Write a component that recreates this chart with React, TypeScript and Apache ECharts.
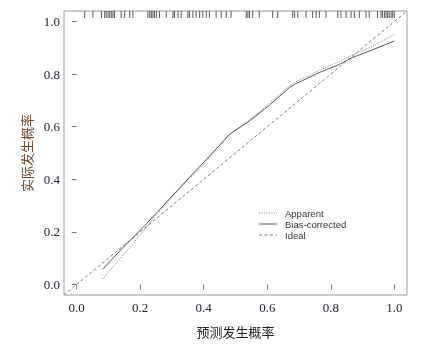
import React, { useEffect, useRef } from "react";
import * as echarts from "echarts";

const tickValues = [0, 0.2, 0.4, 0.6, 0.8, 1.0];
const idealLine = [
  [-0.04, -0.04],
  [1.04, 1.04],
];
const apparentX = [0.082, 0.13, 0.172, 0.24, 0.32, 0.387, 0.429, 0.481, 0.544, 0.607, 0.67, 0.686, 0.764, 0.827, 0.868, 0.931, 1.0];
const apparentY = [0.021, 0.09, 0.147, 0.249, 0.36, 0.439, 0.5, 0.571, 0.625, 0.688, 0.757, 0.768, 0.815, 0.848, 0.873, 0.905, 0.951];
const biasX = [0.082, 0.151, 0.209, 0.282, 0.355, 0.429, 0.481, 0.544, 0.607, 0.67, 0.686, 0.764, 0.827, 0.868, 0.931, 1.0];
const biasY = [0.058, 0.147, 0.217, 0.312, 0.407, 0.502, 0.571, 0.622, 0.682, 0.749, 0.761, 0.806, 0.837, 0.863, 0.892, 0.926];
const rugValues = [
  0.025, 0.051, 0.078, 0.088, 0.093, 0.099, 0.104, 0.109, 0.114, 0.119, 0.14, 0.151, 0.167, 0.177,
  0.224, 0.23, 0.235, 0.24, 0.245, 0.251, 0.261, 0.282, 0.303, 0.308, 0.319, 0.329, 0.35, 0.355,
  0.366, 0.376, 0.387, 0.397, 0.408, 0.418, 0.439, 0.455, 0.471, 0.486, 0.534, 0.539, 0.544, 0.554,
  0.575, 0.617, 0.633, 0.68, 0.686, 0.696, 0.722, 0.743, 0.754, 0.764, 0.785, 0.822, 0.832, 0.848,
  0.864, 0.874, 0.89, 0.911, 0.921, 0.947, 0.958, 0.963, 0.969, 0.974, 0.979, 0.984, 0.99, 0.995, 1.0,
];
const legendNames = ["Apparent", "Bias-corrected", "Ideal"];
const xTitle = "预测发生概率";
const yTitle = "实际发生概率";

export default function App() {
  const ref = useRef<HTMLDivElement>(null);
  useEffect(() => {
    if (!ref.current) return;
    const chart = echarts.init(ref.current, null, { renderer: "svg" });
    const tickLabel = {
      fontFamily: "Liberation Serif",
      fontSize: 13,
      color: "#1e1e2e",
      formatter: (v: number) => v.toFixed(1),
    };
    const legendStyles = [
      { type: [1, 1.5], color: "#777" },
      { type: "solid", color: "#555" },
      { type: [3, 2.5], color: "#777" },
    ];
    const legendGraphics: any[] = [];
    legendNames.forEach((name, i) => {
      const y = 213 + i * 11;
      legendGraphics.push({
        type: "line",
        shape: { x1: 259, y1: y, x2: 277, y2: y },
        style: { stroke: legendStyles[i].color, lineWidth: 1, lineDash: legendStyles[i].type === "solid" ? null : legendStyles[i].type },
      });
      legendGraphics.push({
        type: "text",
        x: 285,
        y: y,
        style: { text: name, font: "9.5px 'Liberation Sans'", fill: "#333", verticalAlign: "middle" },
      });
    });
    chart.setOption({
      animation: false,
      grid: { left: 64, top: 11, right: 23, bottom: 57, show: true, borderColor: "#9a9a9a", borderWidth: 1 },
      xAxis: {
        type: "value",
        min: -0.04,
        max: 1.04,
        name: xTitle,
        nameLocation: "middle",
        nameGap: 30,
        nameTextStyle: { fontFamily: "Noto Sans CJK SC", fontSize: 13, color: "#222" },
        axisLine: { show: false },
        splitLine: { show: false },
        axisTick: { show: true, length: 5, customValues: tickValues, lineStyle: { color: "#777" } },
        axisLabel: { ...tickLabel, margin: 6, customValues: tickValues },
      },
      yAxis: {
        type: "value",
        min: -0.04,
        max: 1.04,
        name: yTitle,
        nameLocation: "middle",
        nameGap: 31,
        nameTextStyle: { fontFamily: "Noto Sans CJK SC", fontSize: 13, color: "#6b4a2e" },
        axisLine: { show: false },
        splitLine: { show: false },
        axisTick: { show: true, length: 5, customValues: tickValues, lineStyle: { color: "#777" } },
        axisLabel: { ...tickLabel, margin: 4, customValues: tickValues },
      },
      graphic: legendGraphics,
      series: [
        {
          name: "Ideal",
          type: "line",
          data: idealLine,
          symbol: "none",
          lineStyle: { color: "#777", width: 1, type: [3, 2.5] },
          silent: true,
        },
        {
          name: "Apparent",
          type: "line",
          data: apparentX.map((x, i) => [x, apparentY[i]]),
          symbol: "none",
          lineStyle: { color: "#777", width: 1, type: [1, 1.5] },
          silent: true,
        },
        {
          name: "Bias-corrected",
          type: "line",
          data: biasX.map((x, i) => [x, biasY[i]]),
          symbol: "none",
          lineStyle: { color: "#555", width: 1 },
          silent: true,
        },
        {
          name: "rug",
          type: "scatter",
          data: rugValues.map((v) => [v, 1.04]),
          symbol: "rect",
          symbolSize: [1, 7],
          symbolOffset: [0, 3.5],
          itemStyle: { color: "#333" },
          silent: true,
        },
      ],
    });
    return () => chart.dispose();
  }, []);
  return <div ref={ref} style={{ position: "fixed", left: 0, top: 0, width: 430, height: 352 }} />;
}
